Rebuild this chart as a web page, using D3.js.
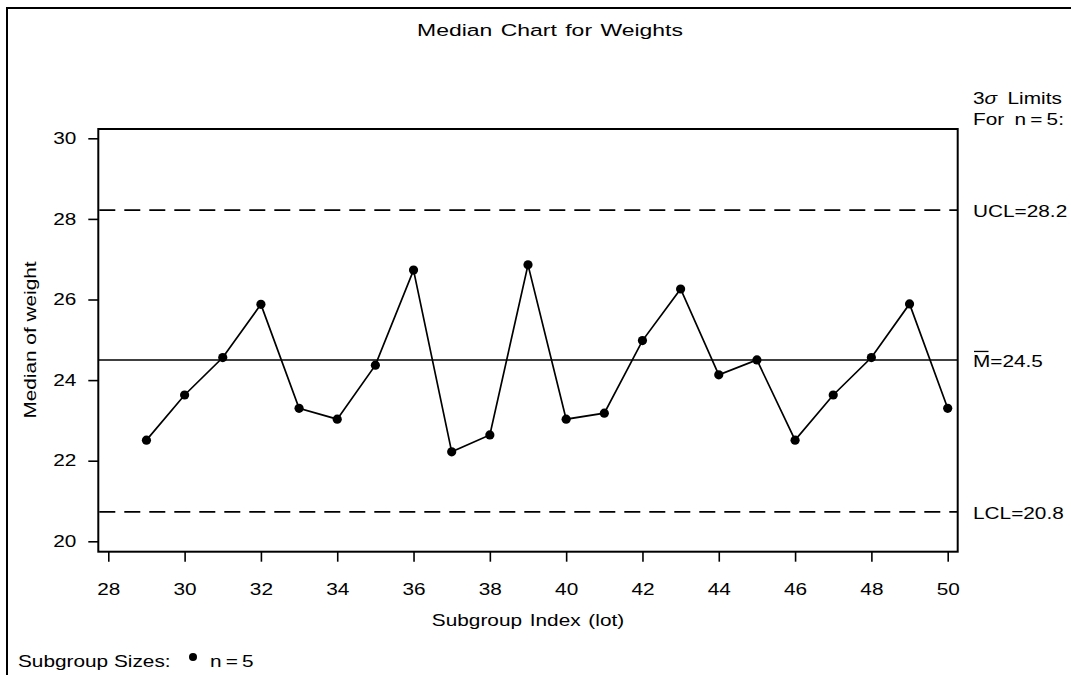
<!DOCTYPE html>
<html>
<head>
<meta charset="utf-8">
<script src="https://cdn.jsdelivr.net/npm/d3@7"></script>
<style>
  body { margin: 0; background: #fff; }
  text { font-family: "Liberation Sans", Arial, sans-serif; fill: #000; }
</style>
</head>
<body>
<div id="canvas"></div>
<script>
"use strict"

/* Data */
let lots = [29, 30, 31, 32, 33, 34, 35, 36, 37, 38, 39, 40, 41, 42, 43, 44, 45, 46, 47, 48, 49, 50];
let medians = [22.51, 23.63, 24.56, 25.88, 23.30, 23.03, 24.37, 26.73, 22.22, 22.64, 26.86,
               23.03, 23.18, 24.98, 26.26, 24.13, 24.50, 22.51, 23.63, 24.56, 25.89, 23.30];
let xTicks = [28, 30, 32, 34, 36, 38, 40, 42, 44, 46, 48, 50];
let yTicks = [20, 22, 24, 26, 28, 30];
let ucl = 28.22;
let centerLine = 24.5;
let lcl = 20.73;
let limitLabels = ["UCL=28.2", "=24.5", "LCL=20.8"];

/* The SAS fonts in the picture are wider than Arial, so text gets stretched */
let stretch = 1.3;

let drawing = d3.select("#canvas")
    .append("svg")
    .attr("width", 1071)
    .attr("height", 675);

/* Outer frame (only left and top edges are visible) */
let frame = drawing.append("path")
    .attr("d", "M7,675 L7,8 L1071,8")
    .attr("fill", "none")
    .attr("stroke", "black")
    .attr("stroke-width", 2);

/* Plot box */
let plotLeft = 98.3;
let plotRight = 957.7;
let plotTop = 129;
let plotBottom = 551.7;

let x = d3.scaleLinear().domain([28, 50]).range([108.3, 947.7]);
let y = d3.scaleLinear().domain([20, 30]).range([541.3, 138.3]);

/* helper: stretched text */
function addText(px, py, str, anchor, size) {
    let g = drawing.append("g")
        .attr("transform", "translate(" + px + "," + py + ") scale(" + stretch + ",1)");
    return g.append("text")
        .attr("text-anchor", anchor)
        .attr("font-size", size)
        .text(str);
}

/* Title */
drawing.append("g")
    .attr("transform", "translate(550,36) scale(1.35,1)")
    .append("text")
    .attr("text-anchor", "middle")
    .attr("font-size", 17)
    .attr("word-spacing", 1.5)
    .text("Median Chart for Weights");

/* Y axis */
let yAxis = drawing.append("g")
    .attr("transform", "translate(" + plotLeft + ",0)")
    .call(d3.axisLeft(y).tickValues(yTicks).tickSize(10).tickSizeOuter(0));
yAxis.select(".domain").remove();
yAxis.selectAll("line").attr("stroke-width", 1.6);
yAxis.selectAll("text")
    .attr("x", -22 / stretch)
    .attr("font-size", 16)
    .attr("transform", "scale(" + stretch + ",1)");
yAxis.attr("font-family", null).attr("font-size", null);

/* X axis */
let xAxis = drawing.append("g")
    .attr("transform", "translate(0," + plotBottom + ")")
    .call(d3.axisBottom(x).tickValues(xTicks).tickSize(10).tickSizeOuter(0));
xAxis.select(".domain").remove();
xAxis.selectAll("line").attr("stroke-width", 1.6);
xAxis.selectAll("text")
    .attr("y", 32)
    .attr("font-size", 16)
    .attr("transform", "scale(" + stretch + ",1)");
xAxis.attr("font-family", null).attr("font-size", null);

/* Axis labels */
drawing.append("g")
    .attr("transform", "translate(36,340) rotate(-90) scale(" + stretch + ",1)")
    .append("text")
    .attr("text-anchor", "middle")
    .attr("font-size", 16)
    .text("Median of weight");

addText((plotLeft + plotRight) / 2, 626, "Subgroup Index (lot)", "middle", 16)
    .attr("word-spacing", 1.5);

/* Control limits */
let dashedLimits = drawing.selectAll(".limit")
    .data([ucl, lcl])
    .enter()
    .append("line")
    .attr("class", "limit")
    .attr("x1", plotLeft + 1)
    .attr("x2", plotRight)
    .attr("y1", d => y(d))
    .attr("y2", d => y(d))
    .attr("stroke", "black")
    .attr("stroke-width", 1.8)
    .attr("stroke-dasharray", "16,9");

let centerRule = drawing.append("line")
    .attr("x1", plotLeft)
    .attr("x2", plotRight)
    .attr("y1", y(centerLine))
    .attr("y2", y(centerLine))
    .attr("stroke", "black")
    .attr("stroke-width", 1.6);

/* Median series */
let line = d3.line()
    .x((d, i) => x(lots[i]))
    .y(d => y(d));

let series = drawing.append("path")
    .attr("d", line(medians))
    .attr("fill", "none")
    .attr("stroke", "black")
    .attr("stroke-width", 1.7);

let points = drawing.selectAll(".pt")
    .data(medians)
    .enter()
    .append("circle")
    .attr("class", "pt")
    .attr("cx", (d, i) => x(lots[i]))
    .attr("cy", d => y(d))
    .attr("r", 4.6)
    .attr("fill", "black");

/* Plot frame on top */
let plotBox = drawing.append("rect")
    .attr("x", plotLeft)
    .attr("y", plotTop)
    .attr("width", plotRight - plotLeft)
    .attr("height", plotBottom - plotTop)
    .attr("fill", "none")
    .attr("stroke", "black")
    .attr("stroke-width", 2);

/* Right-hand limit labels */
let sigma = addText(973, 104, "", "start", 16);
sigma.append("tspan").text("3");
sigma.append("tspan").attr("font-style", "italic").text("\u03c3");
sigma.append("tspan").text("\u2002Limits");
addText(973, 125, "For\u2002n\u2009=\u20095:", "start", 16);

let labelValues = [ucl, centerLine, lcl];
labelValues.forEach(function (v, i) {
    addText(973, y(v) + 7, (i === 1 ? "M" : "") + limitLabels[i], "start", 16);
});
/* bar over the M */
let mBar = drawing.append("line")
    .attr("x1", 974)
    .attr("x2", 988.5)
    .attr("y1", y(centerLine) - 8.5)
    .attr("y2", y(centerLine) - 8.5)
    .attr("stroke", "black")
    .attr("stroke-width", 1.3);

/* Subgroup size legend */
addText(18, 667, "Subgroup Sizes:", "start", 16);
let legendDot = drawing.append("circle")
    .attr("cx", 193)
    .attr("cy", 657)
    .attr("r", 4)
    .attr("fill", "black");
addText(210, 667, "n\u2009=\u20095", "start", 16);
</script>
</body>
</html>
